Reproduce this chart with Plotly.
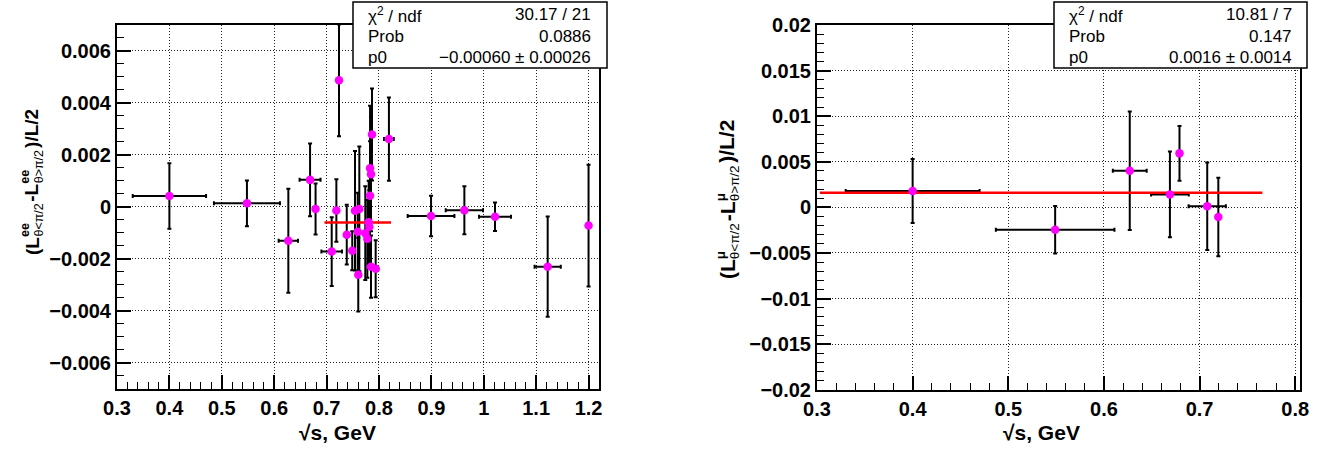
import plotly.graph_objects as go

W, H = 1330, 451

# ---------------- data: e+e- (left) ----------------
x_ee = [0.400, 0.548, 0.627, 0.6685, 0.679, 0.7098, 0.7187, 0.7237, 0.7385, 0.749,
        0.7543, 0.7594, 0.7605, 0.7625, 0.7739, 0.7778, 0.7804, 0.7816, 0.783, 0.783,
        0.7848, 0.7848, 0.7867, 0.7937, 0.819, 0.8994, 0.963, 1.0215, 1.122, 1.200]
y_ee = [0.00042, 0.00014, -0.00130, 0.00104, -0.00008, -0.00172, -0.00014, 0.00487, -0.00107, -0.00169,
        -0.00015, -0.00096, -0.00261, -0.00008, -0.00101, -0.00123, -0.00059, -0.00076, 0.00149, 0.00043,
        0.00126, -0.00230, 0.00279, -0.00238, 0.00261, -0.00035, -0.00013, -0.00038, -0.00230, -0.00072]
ey_ee = [0.00126, 0.00088, 0.00200, 0.00140, 0.00098, 0.00132, 0.00120, 0.00215, 0.00115, 0.00075,
         0.00230, 0.00150, 0.00142, 0.00240, 0.00180, 0.00150, 0.00160, 0.00140, 0.00240, 0.00210,
         0.00220, 0.00120, 0.00177, 0.00110, 0.00160, 0.00078, 0.00092, 0.00055, 0.00193, 0.00234]
ex_ee = [0.070, 0.063, 0.0185, 0.020, 0.0, 0.0197, 0.0, 0.0, 0.0, 0.0,
         0.0, 0.0, 0.0, 0.0, 0.0, 0.0, 0.0, 0.0, 0.0, 0.0,
         0.0, 0.0, 0.0, 0.005, 0.0093, 0.0446, 0.0356, 0.0305, 0.025, 0.0]
fit_ee_range = [0.696, 0.823]
p0_ee = -0.00060
stats_ee = [("χ<sup>2</sup> / ndf", "30.17 / 21"), ("Prob", "0.0886"), ("p0", "−0.00060 ± 0.00026")]

# ---------------- data: mu+mu- (right) ----------------
x_mu = [0.400, 0.549, 0.627, 0.669, 0.679, 0.708, 0.7196]
y_mu = [0.00179, -0.00245, 0.00401, 0.00142, 0.00592, 0.00011, -0.00106]
ey_mu = [0.0035, 0.0026, 0.0065, 0.0047, 0.0030, 0.0048, 0.0043]
ex_mu = [0.070, 0.062, 0.0177, 0.0197, 0.0, 0.0195, 0.0]
fit_mu_range = [0.303, 0.7656]
p0_mu = 0.0016
stats_mu = [("χ<sup>2</sup> / ndf", "10.81 / 7"), ("Prob", "0.147"), ("p0", "0.0016 ± 0.0014")]

# ---------------- ticks ----------------
xt_ee = [0.3, 0.4, 0.5, 0.6, 0.7, 0.8, 0.9, 1.0, 1.1, 1.2]
xl_ee = ["0.3", "0.4", "0.5", "0.6", "0.7", "0.8", "0.9", "1", "1.1", "1.2"]
yt_ee = [-0.006, -0.004, -0.002, 0.0, 0.002, 0.004, 0.006]
yl_ee = ["−0.006", "−0.004", "−0.002", "0", "0.002", "0.004", "0.006"]
xt_mu = [0.3, 0.4, 0.5, 0.6, 0.7, 0.8]
xl_mu = ["0.3", "0.4", "0.5", "0.6", "0.7", "0.8"]
yt_mu = [-0.02, -0.015, -0.01, -0.005, 0.0, 0.005, 0.01, 0.015, 0.02]
yl_mu = ["−0.02", "−0.015", "−0.01", "−0.005", "0", "0.005", "0.01", "0.015", "0.02"]

FONT = "Liberation Sans"


def fx(px):
    return px / W


def fy(py):
    return 1 - py / H


fig = go.Figure()


def add_panel(xs, ys, exs, eys, fr, p0, xa, ya):
    fig.add_trace(go.Scatter(
        x=xs, y=ys, mode="markers", xaxis=xa, yaxis=ya,
        marker=dict(color="rgba(0,0,0,0)", size=8),
        error_y=dict(type="data", array=eys, color="black", thickness=2, width=2),
        error_x=dict(type="data", array=exs, color="black", thickness=2, width=2),
        showlegend=False, hoverinfo="skip"))
    fig.add_trace(go.Scatter(
        x=fr, y=[p0, p0], mode="lines", xaxis=xa, yaxis=ya,
        line=dict(color="red", width=2.5), showlegend=False))
    fig.add_trace(go.Scatter(
        x=xs, y=ys, mode="markers", xaxis=xa, yaxis=ya,
        marker=dict(color="#ff00ff", size=8.5), showlegend=False))


add_panel(x_ee, y_ee, ex_ee, ey_ee, fit_ee_range, p0_ee, "x", "y")
add_panel(x_mu, y_mu, ex_mu, ey_mu, fit_mu_range, p0_mu, "x2", "y2")


def axis(domain, rng, tv, tt, minor_dtick, tick0, anchor):
    return dict(
        domain=domain, range=rng, anchor=anchor, automargin=False,
        tickmode="array", tickvals=tv, ticktext=tt,
        showline=True, linewidth=2, linecolor="black", mirror=True,
        ticks="inside", ticklen=14, tickwidth=1.5, tickcolor="black",
        showgrid=True, gridcolor="#222", griddash="1px,2px", gridwidth=1,
        zeroline=False,
        tickfont=dict(family=FONT, size=20, color="black", weight="bold"),
        minor=dict(ticks="inside", ticklen=7, tickwidth=1, tickcolor="black",
                   dtick=minor_dtick, tick0=tick0, showgrid=False),
    )


fig.update_layout(
    template="none",
    width=W, height=H, margin=dict(l=0, r=0, t=0, b=0, autoexpand=False),
    paper_bgcolor="white", plot_bgcolor="white", showlegend=False,
    xaxis=axis([fx(117), fx(598.5)], [0.3, 1.219], xt_ee, xl_ee, 0.02, 0.3, "y"),
    yaxis=axis([fy(388.8), fy(25)], [-0.007, 0.007], yt_ee, yl_ee, 0.0005, 0.0, "x"),
    xaxis2=axis([fx(817), fx(1300)], [0.3, 0.805], xt_mu, xl_mu, 0.02, 0.3, "y2"),
    yaxis2=axis([fy(389.7), fy(25)], [-0.02, 0.02], yt_mu, yl_mu, 0.001, 0.0, "x2"),
)

shapes = []
annotations = []


def stats_box(x0, x1, y0, y1, tl, tr, rows):
    shapes.append(dict(type="rect", xref="paper", yref="paper",
                       x0=fx(x0), x1=fx(x1), y0=fy(y1), y1=fy(y0),
                       line=dict(color="black", width=1.5), fillcolor="white", layer="above"))
    ys = [15, 36.5, 57.5]
    for (lab, val), yy in zip(rows, ys):
        annotations.append(dict(xref="paper", yref="paper", x=fx(tl), y=fy(yy), text=lab,
                                showarrow=False, xanchor="left", yanchor="middle",
                                font=dict(family=FONT, size=17, color="black")))
        annotations.append(dict(xref="paper", yref="paper", x=fx(tr), y=fy(yy), text=val,
                                showarrow=False, xanchor="right", yanchor="middle",
                                font=dict(family=FONT, size=17, color="black")))


stats_box(353, 607, 2, 68, 366, 593, stats_ee)
stats_box(1054, 1307, 2, 68, 1067, 1294, stats_mu)

# axis titles
for xc in (337.5, 1041.5):
    annotations.append(dict(xref="paper", yref="paper", x=fx(xc), y=fy(432), text="√s, GeV",
                            showarrow=False, xanchor="center", yanchor="middle",
                            font=dict(family=FONT, size=21, color="black", weight="bold")))

CW = {'(': 0.333, ')': 0.333, 'L': 0.611, '-': 0.333, '/': 0.278, '2': 0.556, 'e': 0.556,
      'θ': 0.6, '<': 0.584, '>': 0.584, 'π': 0.65, 'μ': 0.576}


def tw(s, size):
    return sum(CW.get(c, 0.556) for c in s) * size


def ytitle(xc, ybot, ms, ss, sup):
    pieces = [("m", "(L"), ("s", sup, "θ<π/2"), ("m", "-L"), ("s", sup, "θ>π/2"), ("m", ")/L/2")]
    cur = ybot
    for p in pieces:
        if p[0] == "m":
            annotations.append(dict(xref="paper", yref="paper", x=fx(xc), y=fy(cur), text=p[1],
                                    showarrow=False, xanchor="center", yanchor="bottom", textangle=-90,
                                    borderpad=0, borderwidth=0,
                                    font=dict(family=FONT, size=ms, color="black", weight="bold")))
            cur -= tw(p[1], ms)
        else:
            annotations.append(dict(xref="paper", yref="paper", x=fx(xc - 7), y=fy(cur), text=p[1],
                                    showarrow=False, xanchor="center", yanchor="bottom", textangle=-90,
                                    borderpad=0, borderwidth=0,
                                    font=dict(family=FONT, size=ss, color="black", weight="bold")))
            annotations.append(dict(xref="paper", yref="paper", x=fx(xc + 7), y=fy(cur), text=p[2],
                                    showarrow=False, xanchor="center", yanchor="bottom", textangle=-90,
                                    borderpad=0, borderwidth=0,
                                    font=dict(family=FONT, size=ss, color="black")))
            cur -= max(tw(p[1], ss), tw(p[2], ss)) + 2


ytitle(32, 255, 19, 12.5, "ee")
ytitle(727, 279, 21, 13.5, "μ")

fig.update_layout(shapes=shapes, annotations=annotations)
fig.write_html("out.html")
